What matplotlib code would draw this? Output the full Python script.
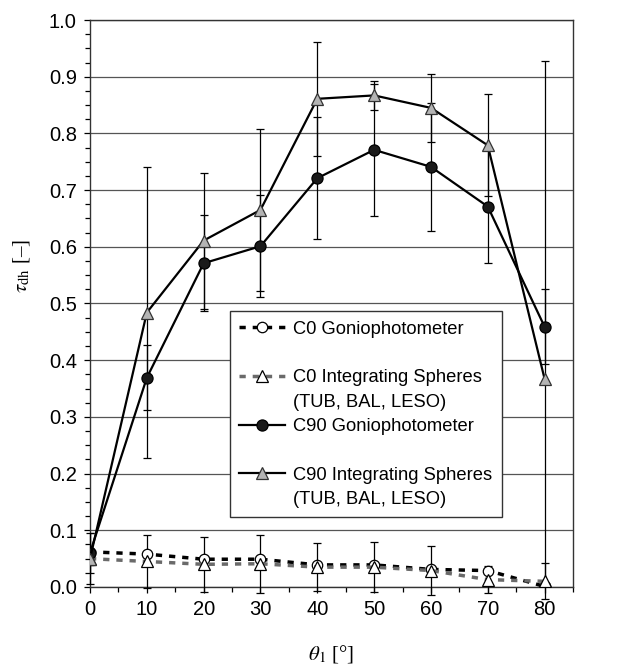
import numpy as np
import matplotlib
matplotlib.use("Agg")
from matplotlib import pyplot as plt
from matplotlib.lines import Line2D
from matplotlib.ticker import MultipleLocator, FormatStrFormatter

# data
angles = [0, 10, 20, 30, 40, 50, 60, 70, 80]

c0_gonio = [0.062, 0.058, 0.049, 0.049, 0.039, 0.039, 0.031, 0.029, 0.001]
c0_sphere = [0.050, 0.045, 0.040, 0.041, 0.035, 0.035, 0.029, 0.013, 0.010]
c0_sphere_err = [0.045, 0.047, 0.049, 0.051, 0.042, 0.044, 0.043, 0.024, 0.032]

c90_gonio = [0.060, 0.369, 0.571, 0.601, 0.721, 0.771, 0.741, 0.671, 0.459]
c90_gonio_err = [0.036, 0.057, 0.085, 0.090, 0.108, 0.117, 0.113, 0.100, 0.066]
c90_sphere = [0.050, 0.484, 0.611, 0.665, 0.861, 0.867, 0.845, 0.779, 0.367]
c90_sphere_err = [0.012, 0.257, 0.120, 0.143, 0.100, 0.025, 0.060, 0.090, 0.560]

labels = ["C0 Goniophotometer", " ",
          "C0 Integrating Spheres", "(TUB, BAL, LESO)",
          "C90 Goniophotometer", " ",
          "C90 Integrating Spheres", "(TUB, BAL, LESO)"]

plt.rcParams['font.family'] = ['Liberation Sans', 'DejaVu Sans']
plt.rcParams['mathtext.fontset'] = 'stix'

fig = plt.figure(figsize=(6.18, 6.71), dpi=100)
ax = fig.add_axes([90/618, 1 - 587/671, 483/618, 567/671])

# error bars
eb = dict(fmt='none', ecolor='black', elinewidth=0.9, capsize=3.2, capthick=0.9)
ax.errorbar(angles, c90_gonio, yerr=c90_gonio_err, zorder=3, **eb)
ax.errorbar(angles, c90_sphere, yerr=c90_sphere_err, zorder=3, **eb)
e0 = ax.errorbar(angles, c0_sphere, yerr=c0_sphere_err, zorder=3, **eb)
for art in e0.lines[1] + e0.lines[2]:
    art.set_clip_on(False)

# lines
dash = (0, (1.8, 2.0))
l1, = ax.plot(angles, c0_gonio, color='black', lw=2.5, linestyle=dash,
              marker='o', ms=7.5, mfc='white', mec='black', mew=0.9, zorder=4)
l2, = ax.plot(angles, c0_sphere, color='#6a6a6a', lw=2.5, linestyle=dash,
              marker='^', ms=8, mfc='white', mec='black', mew=0.9, zorder=4)
l3, = ax.plot(angles, c90_gonio, color='black', lw=1.6,
              marker='o', ms=8, mfc='#1a1a1a', mec='black', mew=0.9, zorder=5)
l4, = ax.plot(angles, c90_sphere, color='black', lw=1.6,
              marker='^', ms=9, mfc='#b4b4b4', mec='#333333', mew=0.9, zorder=5)

ax.set_xlim(0, 85)
ax.set_ylim(0, 1.0)
ax.xaxis.set_major_locator(MultipleLocator(10))
ax.xaxis.set_minor_locator(MultipleLocator(5))
ax.yaxis.set_major_locator(MultipleLocator(0.1))
ax.yaxis.set_minor_locator(MultipleLocator(0.025))
ax.yaxis.set_major_formatter(FormatStrFormatter('%.1f'))
ax.set_xticks([a for a in angles])
ax.tick_params(which='major', direction='out', length=4.5, width=0.9, labelsize=14.5, pad=5)
ax.tick_params(which='minor', direction='out', length=3.5, width=0.9)
ax.grid(axis='y', which='major', color='#555555', lw=0.9)
ax.set_axisbelow(True)
for s in ax.spines.values():
    s.set_color('#333333')
    s.set_linewidth(1.0)

ax.set_xlabel(r'$\theta_1$ [°]', fontsize=15, family='Liberation Serif')
ax.xaxis.set_label_coords(0.5, -0.098)
ax.set_ylabel(r'$\tau_{\mathrm{dh}}$ [–]', fontsize=15, family='Liberation Serif')
ax.yaxis.set_label_coords(-0.12, 0.566)

blank = Line2D([], [], linestyle='none')
handles = [l1, blank, l2, blank, l3, blank, l4, blank]
leg = ax.legend(handles, labels, loc='upper left', bbox_to_anchor=(0.29, 0.486),
                borderaxespad=0, fontsize=13.2, handlelength=2.5, handletextpad=0.45,
                labelspacing=0.4, fancybox=False, framealpha=1, edgecolor='#333333',
                borderpad=0.5)
leg.get_frame().set_linewidth(1.0)
leg.set_zorder(10)

fig.savefig('out.png', dpi=100)
